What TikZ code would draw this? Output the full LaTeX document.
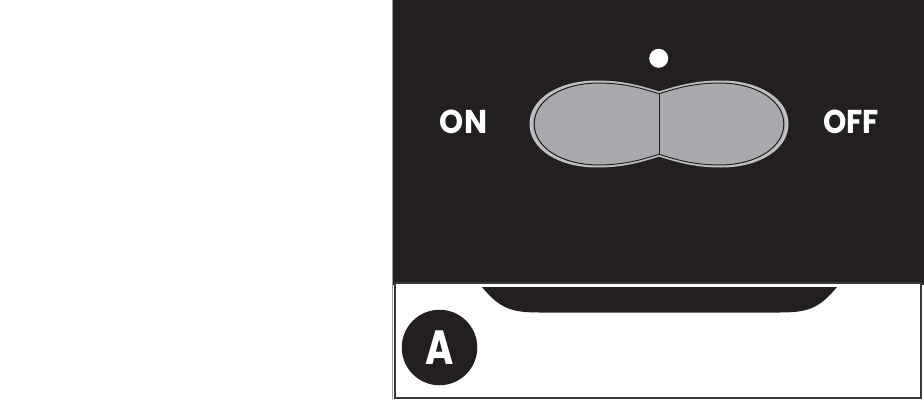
\documentclass[tikz,border=0pt]{standalone}
\usepackage{fontspec}
\setsansfont{Poppins}
\usepackage{tikz}
\usetikzlibrary{positioning,calc}
\definecolor{panel}{HTML}{231F20}
\definecolor{rocker}{HTML}{A7A9AC}
\definecolor{rim}{HTML}{BEC0C2}
\definecolor{frame}{HTML}{3A3A3A}
\definecolor{edgegray}{HTML}{9C9C9C}
\tikzset{
  lbl/.style={font=\sffamily\bfseries\fontsize{33}{33}\selectfont, text=white,
              inner sep=0pt, anchor=base},
  badge/.style={circle, fill=panel, minimum size=75.5pt, inner sep=0pt,
                text=white, font=\sffamily\bfseries\fontsize{48}{48}\selectfont},
  led/.style={circle, fill=white, minimum size=19pt, inner sep=0pt},
  rockerpath/.style={insert path={
    (0,-31) .. controls (-20,-37.5) and (-38,-42) .. (-62,-42)
    .. controls (-100,-42) and (-128,-24) .. (-128,0)
    .. controls (-128,24) and (-100,42) .. (-62,42)
    .. controls (-38,42) and (-20,37.5) .. (0,31)
    .. controls (20,37.5) and (38,42) .. (62,42)
    .. controls (100,42) and (128,24) .. (128,0)
    .. controls (128,-24) and (100,-42) .. (62,-42)
    .. controls (38,-42) and (20,-37.5) .. (0,-31) -- cycle}}
}

\begin{document}
\begin{tikzpicture}[x=1pt, y=-1pt]
  \useasboundingbox (0,0) rectangle (924,402);

  \draw[edgegray, line width=1pt] (392.8,0) -- (392.8,399);
  \fill[panel] (393.3,0) rectangle (924,285);
  \draw[frame, line width=2.3pt, fill=white] (395,283) rectangle (921.2,398);

  \fill[panel] (482,287) .. controls (500,309) and (512,312.5) .. (540,312.5)
    -- (779,312.5) .. controls (807,312.5) and (819,309) .. (837,287) -- cycle;

  \begin{scope}[shift={(659,124)}]
    \path[fill=rocker, draw=rim, line width=3pt, rockerpath];
    \path[draw=panel, line width=1pt, scale=0.975, rockerpath];
    \draw[panel, line width=1pt] (0,-30.3) -- (0,30.3);
  \end{scope}

  \node[led] (dot) at (658.7,58.3) {};
  \node[lbl] (on) at (463.5,133.3) {\scalebox{0.93}[1]{ON}};
  \node[lbl] (off) at (851,133.3) {\scalebox{0.9}[1]{OFF}};
  \node[badge] (mark) at (439.5,347.5) {\scalebox{0.8}[1]{A}};
\end{tikzpicture}
\end{document}
